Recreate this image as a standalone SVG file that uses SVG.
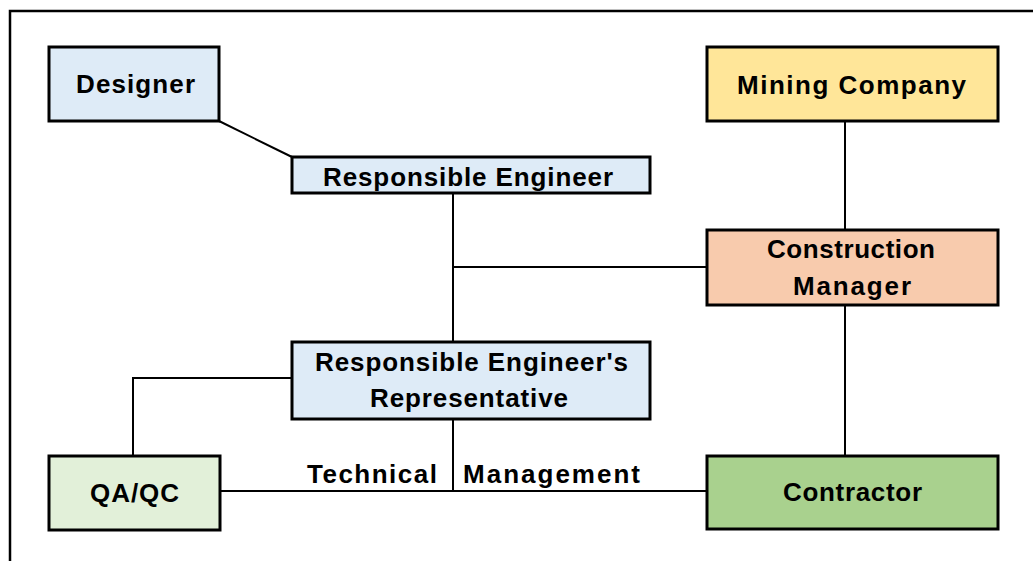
<svg xmlns="http://www.w3.org/2000/svg" width="1033" height="561" viewBox="0 0 1033 561">
<style>
.box{stroke:#000;stroke-width:3}
.lbl{font-family:"Liberation Sans",Arial,sans-serif;font-weight:bold;font-size:26px;fill:#000;text-anchor:middle}
.ln{fill:none;stroke:#000;stroke-width:2}
</style>
<rect width="1033" height="561" fill="#fff"/>
<path d="M10,561 V11 H1033" fill="none" stroke="#000" stroke-width="2.5"/>
<g id="connectors">
<line class="ln" x1="219" y1="121" x2="292" y2="157"/>
<line class="ln" x1="453" y1="193" x2="453" y2="342"/>
<line class="ln" x1="453" y1="267" x2="707" y2="267"/>
<line class="ln" x1="845" y1="121" x2="845" y2="230"/>
<line class="ln" x1="845" y1="305" x2="845" y2="456"/>
<polyline class="ln" points="292,378 133,378 133,456"/>
<line class="ln" x1="453" y1="419" x2="453" y2="491"/>
<line class="ln" x1="220" y1="491" x2="707" y2="491"/>
<text class="lbl" x="372" y="483" textLength="130" lengthAdjust="spacing">Technical</text>
<text class="lbl" x="551.5" y="483" textLength="177" lengthAdjust="spacing">Management</text>
</g>
<g id="designer">
<rect class="box" x="49" y="47" width="170" height="74" fill="#DEEBF7"/>
<text class="lbl" x="135.5" y="93" textLength="119" lengthAdjust="spacing">Designer</text>
</g>
<g id="mining-company">
<rect class="box" x="707" y="47" width="291" height="74" fill="#FFE699"/>
<text class="lbl" x="851.5" y="94" textLength="229" lengthAdjust="spacing">Mining Company</text>
</g>
<g id="responsible-engineer">
<rect class="box" x="292" y="157" width="358" height="36" fill="#DEEBF7"/>
<text class="lbl" x="468" y="186" textLength="290" lengthAdjust="spacing">Responsible Engineer</text>
</g>
<g id="construction-manager">
<rect class="box" x="707" y="230" width="291" height="75" fill="#F8CBAD"/>
<text class="lbl" x="851" y="258" textLength="168" lengthAdjust="spacing">Construction</text>
<text class="lbl" x="852" y="295" textLength="118" lengthAdjust="spacing">Manager</text>
</g>
<g id="re-representative">
<rect class="box" x="292" y="342" width="358" height="77" fill="#DEEBF7"/>
<text class="lbl" x="471.5" y="371" textLength="313" lengthAdjust="spacing">Responsible Engineer's</text>
<text class="lbl" x="469" y="407" textLength="198" lengthAdjust="spacing">Representative</text>
</g>
<g id="qaqc">
<rect class="box" x="49" y="456" width="171" height="74" fill="#E2F0D9"/>
<text class="lbl" x="134.5" y="502" textLength="89" lengthAdjust="spacing">QA/QC</text>
</g>
<g id="contractor">
<rect class="box" x="707" y="456" width="291" height="73" fill="#A9D18E"/>
<text class="lbl" x="852.5" y="501" textLength="139" lengthAdjust="spacing">Contractor</text>
</g>
</svg>
